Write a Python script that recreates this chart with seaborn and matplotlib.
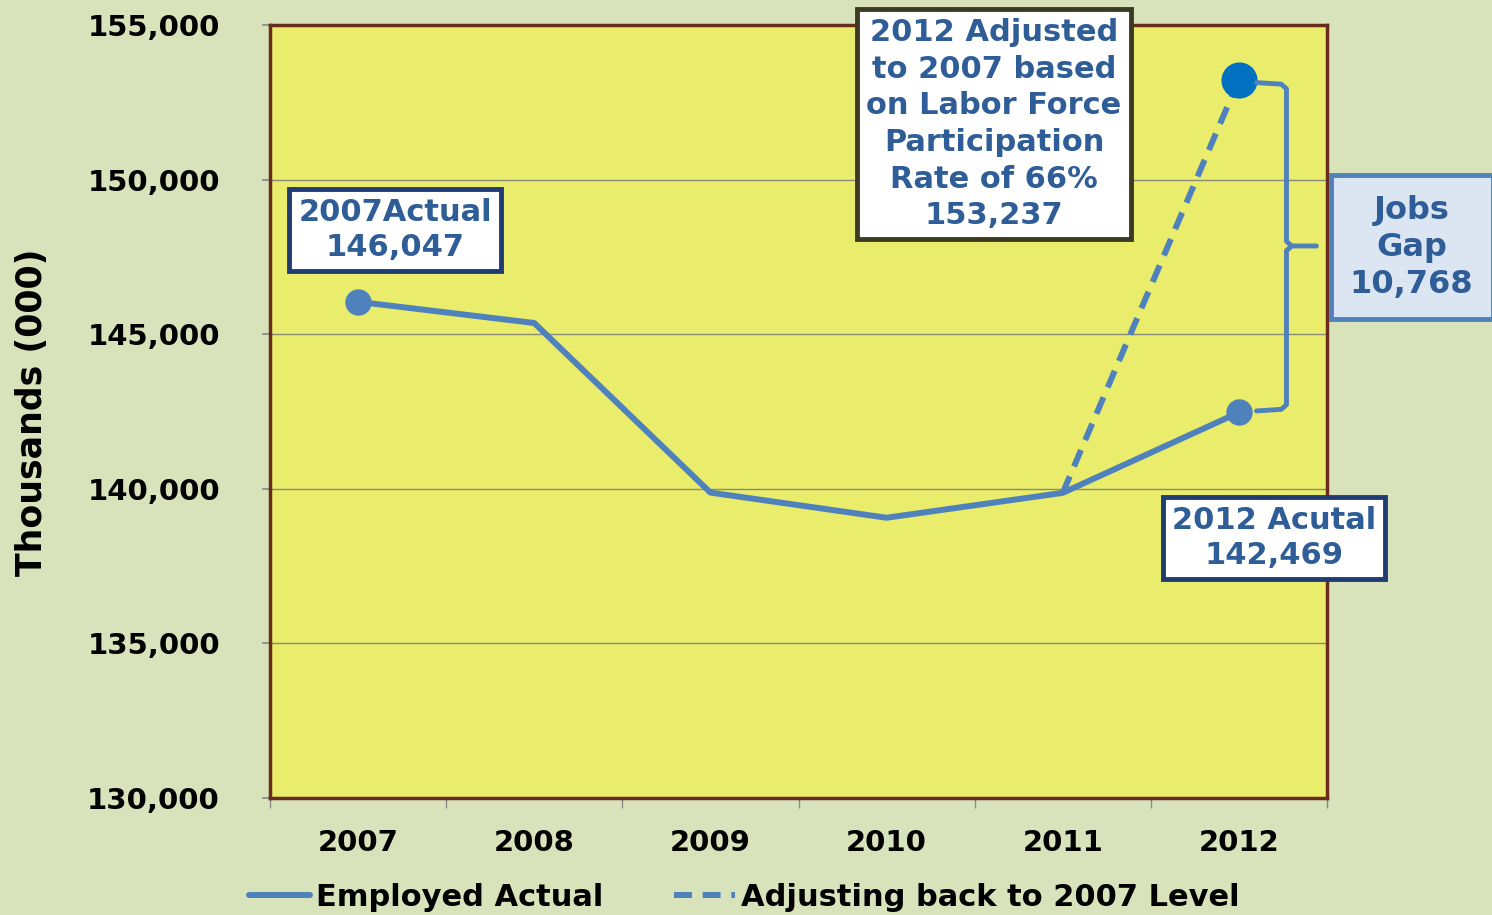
import matplotlib
matplotlib.use("Agg")
import matplotlib.pyplot as plt
import seaborn as sns
import pandas as pd
import numpy as np

years = ["2007", "2008", "2009", "2010", "2011", "2012"]
employed_actual = [146047, 145362, 139877, 139064, 139869, 142469]
adjusted_years = ["2011", "2012"]
adjusted_values = [139869, 153237]
y_ticks = [130000, 135000, 140000, 145000, 150000, 155000]

BG = "#d8e3bb"
PLOT_BG = "#e9ed6b"
BORDER = "#6b2b1c"
LINE = "#4f81bd"
TXT = "#2e5d97"

sns.set_theme(style="white")
plt.rcParams['font.family'] = ['DejaVu Sans']

fig = plt.figure(figsize=(14.92, 9.15), dpi=100, facecolor=BG)
ax = fig.add_axes([270/1492, 1-798/915, 1057/1492, 773/915])
ax.set_facecolor(PLOT_BG)

df_actual = pd.DataFrame({"year": years, "value": employed_actual, "series": "Employed Actual"})
df_adj = pd.DataFrame({"year": adjusted_years, "value": adjusted_values, "series": "Adjusting back to 2007 Level"})
xpos = {y: i for i, y in enumerate(years)}
df_actual["x"] = df_actual["year"].map(xpos)
df_adj["x"] = df_adj["year"].map(xpos)

sns.lineplot(data=df_actual, x="x", y="value", ax=ax, color=LINE, lw=4.3,
             label="Employed Actual", zorder=3)
sns.lineplot(data=df_adj, x="x", y="value", ax=ax, color=LINE, lw=4.3,
             linestyle=(0, (3, 1.8)), label="Adjusting back to 2007 Level", zorder=3)

# markers on key points
ax.plot([df_actual["x"].iloc[0], df_actual["x"].iloc[-1]],
        [employed_actual[0], employed_actual[-1]], 'o', color=LINE, ms=18, zorder=4)
ax.plot([df_adj["x"].iloc[-1]], [adjusted_values[-1]], 'o', color="#0070c0", ms=25, zorder=4)

ax.set_xlim(-0.5, 5.5)
ax.set_ylim(130000, 155000)
ax.set_yticks(y_ticks)
ax.set_yticklabels([f"{v:,}" for v in y_ticks])
ax.set_xticks(range(len(years)))
ax.set_xticklabels(years)
ax.set_xticks(np.arange(-0.5, 5.6, 1), minor=True)
ax.set_xlabel("")
ax.set_ylabel("")

for v in y_ticks[1:-1]:
    ax.axhline(v, color="#8a8a7a", lw=1, zorder=1)

ax.tick_params(axis='y', which='major', length=6, color="#8a8a8a", direction='out',
               pad=30, labelsize=21, left=True)
ax.tick_params(axis='x', which='major', length=0, pad=22, labelsize=21)
ax.tick_params(axis='x', which='minor', length=7, color="#8a8a8a", direction='out', bottom=True)
for lab in ax.get_yticklabels() + ax.get_xticklabels():
    lab.set_fontweight('bold')
    lab.set_color("black")

for s in ax.spines.values():
    s.set_color(BORDER)
    s.set_linewidth(2.5)
    s.set_visible(True)

fig.text(32/1492, 1-412/915, "Thousands (000)", rotation=90, ha='center', va='center',
         fontsize=25, fontweight='bold', color='black')

# annotation boxes
ax.text(0.21, 148370, f"2007Actual\n{employed_actual[0]:,}", ha='center', va='center',
        fontsize=22, fontweight='bold', color=TXT, linespacing=1.25, zorder=6,
        bbox=dict(boxstyle='square,pad=0.3', fc='white', ec="#1f3d73", lw=3.5))
ax.text(3.61, 151790, f"2012 Adjusted\nto 2007 based\non Labor Force\nParticipation\nRate of 66%\n{adjusted_values[-1]:,}",
        ha='center', va='center', fontsize=22, fontweight='bold', color=TXT,
        linespacing=1.33, zorder=6, clip_on=False,
        bbox=dict(boxstyle='square,pad=0.3', fc='white', ec="#3d3a24", lw=3.5))
ax.text(5.2, 138410, f"2012 Acutal\n{employed_actual[-1]:,}", ha='center', va='center',
        fontsize=22, fontweight='bold', color=TXT, linespacing=1.25, zorder=6, clip_on=False,
        bbox=dict(boxstyle='square,pad=0.3', fc='white', ec="#1f3d73", lw=3.5))
gap = adjusted_values[-1] - employed_actual[-1]
ax.text(5.98, 147820, f"Jobs\nGap\n{gap:,}", ha='center', va='center',
        fontsize=23, fontweight='bold', color=TXT, linespacing=1.25, zorder=6, clip_on=False,
        bbox=dict(boxstyle='square,pad=0.6', fc="#dce6f2", ec=LINE, lw=3.5))

# brace
top = adjusted_values[-1]
bot = employed_actual[-1]
mid = (top + bot) / 2
xb = 5.27
ax.plot([5.1, xb - 0.03, xb, xb, xb + 0.03, xb + 0.17], [top - 100, top - 150, top - 300, mid + 150, mid, mid],
        color=LINE, lw=3.5, solid_capstyle='round', zorder=5, clip_on=False)
ax.plot([5.1, xb - 0.03, xb, xb, xb + 0.03], [bot + 50, bot + 100, bot + 250, mid - 150, mid],
        color=LINE, lw=3.5, solid_capstyle='round', zorder=5, clip_on=False)

leg = ax.legend(loc='center', bbox_to_anchor=(0.499, 1-897/915), bbox_transform=fig.transFigure,
                ncol=2, frameon=False, handlelength=2.0, handletextpad=0.2, columnspacing=2.3,
                prop={'weight': 'bold', 'size': 22})
for t in leg.get_texts():
    t.set_color('black')

fig.savefig("out.png", dpi=100, facecolor=BG)
